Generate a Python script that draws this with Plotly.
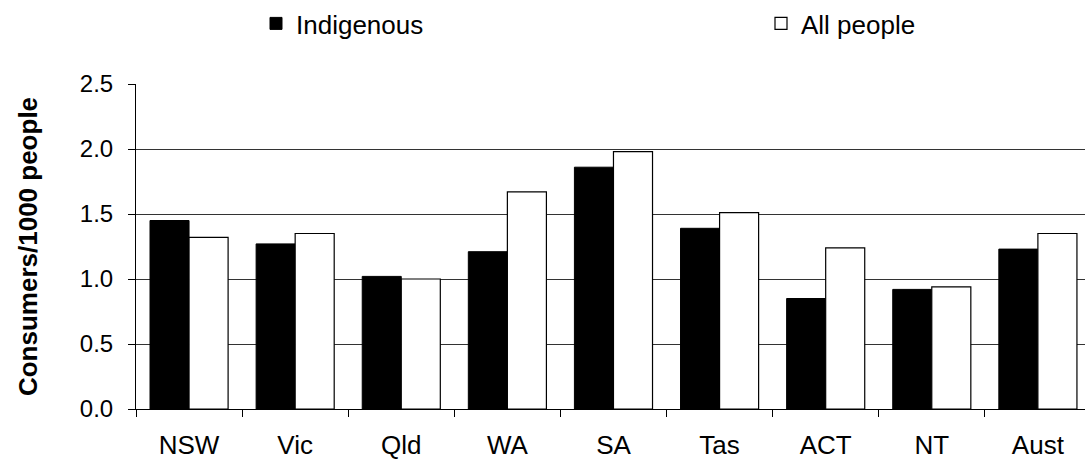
import plotly.graph_objects as go

# Consumers per 1000 people, by jurisdiction
states = ["NSW", "Vic", "Qld", "WA", "SA", "Tas", "ACT", "NT", "Aust"]
indigenous = [1.45, 1.27, 1.02, 1.21, 1.86, 1.39, 0.85, 0.92, 1.23]
all_people = [1.32, 1.35, 1.00, 1.67, 1.98, 1.51, 1.24, 0.94, 1.35]

FONT = "Liberation Sans, Arial, sans-serif"

fig = go.Figure()
fig.add_trace(go.Bar(
    x=states, y=indigenous, name="Indigenous", legend="legend",
    marker=dict(color="black", line=dict(color="black", width=1)),
))
fig.add_trace(go.Bar(
    x=states, y=all_people, name="All people", legend="legend2",
    marker=dict(color="white", line=dict(color="black", width=1.2)),
))

legend_style = dict(
    orientation="h",
    xref="container", yref="container",
    y=1.0, xanchor="left", yanchor="top",
    font=dict(family=FONT, size=26, color="black"),
    bgcolor="rgba(0,0,0,0)",
)

fig.update_layout(
    width=1085, height=461,
    margin=dict(l=136, r=0, t=84, b=52, autoexpand=False),
    paper_bgcolor="white", plot_bgcolor="white",
    barmode="group", bargap=0.264, bargroupgap=0,
    font=dict(family=FONT, size=24, color="black"),
    showlegend=True,
    legend=dict(x=256 / 1085, **legend_style),
    legend2=dict(x=761 / 1085, **legend_style),
)

fig.update_xaxes(
    type="category",
    range=[-0.5, 8.444],
    showline=True, linecolor="black", linewidth=1,
    ticks="outside", tickson="boundaries", ticklen=7,
    tickcolor="black", tickwidth=1,
    ticklabelstandoff=13,
    showgrid=False, zeroline=False,
    tickfont=dict(family=FONT, size=26, color="black"),
)

fig.update_yaxes(
    range=[0, 2.5],
    tickvals=[0, 0.5, 1.0, 1.5, 2.0, 2.5],
    ticktext=["0.0", "0.5", "1.0", "1.5", "2.0", "2.5"],
    showline=True, linecolor="black", linewidth=1,
    ticks="outside", ticklen=7, tickcolor="black", tickwidth=1,
    ticklabelstandoff=10,
    showgrid=True, gridcolor="#333333", gridwidth=1,
    zeroline=False,
    tickfont=dict(family=FONT, size=24, color="black"),
    title=dict(
        text="Consumers/1000 people",
        font=dict(family=FONT, size=26, color="black", weight="bold"),
        standoff=34,
    ),
)

fig.write_html("out.html")
